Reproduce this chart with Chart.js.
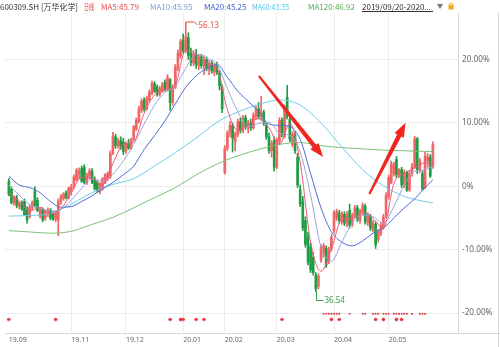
<!DOCTYPE html>
<html><head><meta charset="utf-8">
<script src="https://cdn.jsdelivr.net/npm/chart.js@4.4.0/dist/chart.umd.min.js"></script>
<style>html,body{margin:0;padding:0;background:#fff;overflow:hidden}#c{display:block}</style>
</head><body>
<canvas id="c" width="500" height="347"></canvas>
<script>
// ---- candle data (percent change vs. base) ----
const opens = [0.8,-0.5,-2.6,-1.8,-3.2,-2.6,-2.4,-3.6,-4.8,-3.3,-0.7,-2.2,-4.7,-3.7,-5.0,-4.4,-3.8,-4.3,-5.2,-5.3,
-2.4,-1.9,-1.0,-1.8,-0.8,0.0,1.0,2.0,2.8,3.0,0.6,1.6,2.4,1.2,0.6,-0.8,-0.4,0.6,1.2,1.5,
5.2,7.8,6.4,7.2,7.0,5.5,6.8,6.0,7.4,9.0,10.2,12.0,13.6,12.2,13.6,14.6,16.2,15.6,14.5,15.0,
16.4,15.3,16.8,13.2,15.6,18.6,20.6,23.0,21.4,23.4,21.0,19.4,20.8,19.0,20.4,19.0,20.0,18.4,19.4,18.0,
19.2,17.8,15.6,2.2,6.0,8.4,9.6,7.0,8.2,10.2,8.8,10.8,9.2,10.0,9.2,11.0,12.2,11.0,11.6,9.6,
7.8,5.6,7.2,3.0,7.0,10.4,8.0,14.0,10.6,6.6,8.2,4.6,-0.6,-2.4,-5.4,-8.0,-9.6,-11.2,-14.0,-15.8,
-11.6,-10.6,-9.8,-11.8,-9.8,-7.0,-5.0,-4.2,-5.6,-4.4,-5.8,-3.8,-6.0,-4.6,-3.4,-5.4,-4.2,-3.2,-5.8,-4.8,
-6.8,-6.0,-8.4,-7.4,-6.4,-4.6,-1.6,0.6,2.0,4.2,1.8,2.6,0.2,2.2,-0.6,2.0,3.0,7.5,2.6,2.0,
-0.2,4.0,4.6,3.2];
const highs = [1.2,0.0,-1.5,-1.4,-2.4,-2.3,-2.0,-3.2,-2.9,-2.3,0.0,-1.8,-3.3,-3.4,-3.8,-3.4,-3.5,-4.0,-3.9,-2.0,
-1.3,-1.0,-0.7,-0.1,0.3,1.8,2.8,2.9,3.2,3.4,2.1,2.8,2.8,1.5,0.9,0.6,1.4,2.0,2.3,5.6,
8.5,8.2,7.6,7.8,7.6,7.0,7.4,7.6,9.6,10.8,12.6,13.8,14.0,14.2,15.2,16.6,16.5,16.0,15.8,16.4,
16.8,17.6,17.0,16.0,19.2,21.5,23.2,24.0,25.9,24.2,21.8,21.4,21.6,20.8,20.8,20.6,20.4,19.8,19.8,19.4,
19.6,18.2,16.0,6.4,8.8,10.2,10.0,8.6,10.6,10.8,11.2,11.2,10.4,10.6,11.6,12.6,13.2,14.2,12.0,10.0,
8.4,7.2,7.8,7.6,10.8,10.8,12.8,15.9,11.0,8.6,8.6,5.2,0.2,-1.6,-4.8,-7.2,-9.0,-10.4,-13.6,-13.8,
-9.2,-9.0,-9.4,-9.6,-7.6,-3.8,-3.6,-3.8,-4.0,-4.0,-4.0,-2.8,-4.2,-3.0,-3.0,-3.6,-2.6,-2.8,-4.2,-4.4,
-5.4,-5.6,-6.8,-5.8,-4.4,-1.0,1.8,4.0,3.8,4.7,2.8,3.0,2.6,2.4,2.4,3.6,7.9,7.7,4.4,2.4,
5.4,5.2,5.0,7.0];
const lows = [-1.5,-2.8,-3.0,-3.4,-3.6,-3.8,-4.6,-5.8,-5.0,-3.7,-3.3,-4.0,-5.0,-5.6,-5.4,-4.8,-5.3,-5.4,-5.6,-7.8,
-2.9,-2.2,-2.0,-2.0,-1.4,-0.3,0.8,1.2,0.6,0.4,0.3,1.2,0.4,-0.6,-1.0,-1.2,-0.6,0.4,0.9,1.2,
5.0,6.0,6.0,5.8,5.0,5.2,5.8,5.8,7.2,8.8,10.0,11.6,11.8,12.0,13.2,14.4,14.8,14.2,14.2,14.8,
15.0,15.0,12.0,12.8,15.4,18.2,20.2,21.0,21.0,20.0,19.0,19.0,18.6,18.4,18.6,17.6,18.2,17.6,17.8,17.4,
17.6,15.2,11.6,1.9,5.6,7.8,5.4,5.6,7.8,8.4,8.4,9.0,8.4,8.8,9.0,10.6,10.6,10.4,9.6,7.4,
5.2,4.6,2.4,2.8,6.6,7.8,7.6,10.6,7.0,6.2,5.2,-0.2,-3.2,-7.0,-9.6,-12.4,-13.6,-14.0,-16.6,-16.2,
-12.0,-11.2,-12.8,-12.2,-10.2,-7.4,-5.4,-5.8,-6.0,-6.2,-6.4,-6.6,-6.4,-5.0,-5.6,-5.8,-4.6,-6.0,-6.2,-7.0,
-7.2,-9.8,-8.8,-7.8,-6.8,-5.0,-2.0,0.4,1.6,1.4,1.4,-0.2,-0.2,-0.8,-0.8,1.6,2.8,2.0,2.2,-0.6,
-0.4,3.0,1.4,2.8];
const closes = [-1.3,-2.6,-1.8,-3.0,-2.6,-3.6,-4.5,-5.3,-3.3,-2.5,-3.1,-3.8,-3.6,-5.3,-4.0,-3.7,-5.0,-5.2,-4.0,-2.3,
-1.6,-1.2,-1.8,-0.3,0.0,1.5,2.6,2.3,0.8,0.6,1.8,2.4,0.6,-0.4,-0.7,0.4,1.2,1.8,2.0,5.2,
7.8,6.4,7.2,6.2,5.5,6.8,6.0,7.4,9.4,10.5,12.2,13.4,12.2,13.8,14.9,16.2,15.0,14.5,15.4,16.0,
15.3,17.2,13.2,15.6,18.8,21.0,22.8,21.4,23.6,20.6,19.6,20.8,19.2,20.4,19.0,20.0,18.6,19.4,18.2,19.0,
18.0,15.8,12.2,6.0,8.4,9.6,7.6,8.2,10.2,8.8,10.8,9.4,10.0,9.2,11.2,12.2,11.0,11.8,10.0,7.8,
5.6,6.8,3.0,7.2,10.4,8.2,12.4,11.0,7.4,8.2,5.6,0.2,-2.8,-6.6,-9.2,-12.0,-13.2,-13.6,-16.2,-14.2,
-9.6,-9.4,-12.4,-10.0,-8.0,-4.2,-4.0,-5.4,-4.4,-5.8,-4.4,-6.2,-4.6,-3.4,-5.2,-4.0,-3.0,-5.6,-4.6,-6.6,
-5.8,-9.2,-7.2,-6.2,-4.8,-1.4,1.4,3.6,3.4,1.8,2.6,0.2,2.2,-0.6,2.0,3.2,7.5,2.6,4.0,-0.4,
4.8,4.6,1.6,6.6];

// ---- moving averages ----
const maIdx = [0,4,8,12,16,20,24,28,32,36,40,44,48,52,56,60,64,68,72,76,80,84,88,92,96,100,104,108,112,116,120,124,128,132,136,140,144,148,152,156,160,163];
const ma5  = [-1.0,-2.3,-3.9,-3.3,-4.3,-3.6,-1.0,1.4,1.2,0.2,3.6,6.6,7.0,11.5,14.4,15.2,16.0,21.5,20.8,19.4,18.6,12.1,8.8,9.8,10.7,9.2,6.6,9.9,3.7,-8.8,-13.4,-9.9,-5.2,-5.1,-4.0,-5.1,-6.6,0.4,2.0,2.9,3.7,3.4];
const ma10 = [0.2,-1.4,-2.9,-3.4,-3.9,-3.6,-2.2,-0.3,1.2,0.8,1.9,4.0,6.6,9.8,12.8,14.8,15.8,18.6,20.8,20.2,19.2,15.4,11.8,9.4,9.9,10.1,8.4,8.0,5.4,-1.4,-9.6,-11.8,-8.8,-5.8,-4.5,-4.8,-5.8,-3.2,0.2,2.4,2.6,3.2];
const ma20 = [1.6,0.2,-0.2,-1.0,-2.4,-3.3,-3.2,-2.4,-1.5,-0.4,0.6,1.8,3.2,5.8,8.0,10.3,13.0,15.6,17.4,18.6,19.2,17.2,15.0,13.4,11.8,9.8,9.6,9.4,7.4,2.0,-3.4,-7.2,-8.8,-9.4,-8.6,-7.4,-6.6,-5.0,-3.4,-2.0,-0.2,1.0];
const maSlowIdx = [0,8,16,24,32,40,48,56,64,72,80,88,96,104,112,120,128,136,144,152,160,163];
const ma60  = [-4.7,-4.6,-4.3,-2.8,-1.0,0.3,1.2,3.2,5.3,7.6,10.1,11.7,12.9,13.6,12.8,10.0,6.2,2.6,0.1,-1.6,-2.4,-2.6];
const ma120 = [-7.0,-7.2,-7.4,-7.1,-6.0,-4.9,-3.4,-1.8,-0.2,1.8,3.5,4.8,5.8,6.6,6.9,6.4,6.1,5.9,5.7,5.6,5.5,5.5];

// ---- signal markers (candle indices) ----
const starIdx = [0,18,62,66,67,72,75,105,124,127,141,144,149,151];
const squareIdx = [121,122,123,124,125,126,127,131,136,137,140,141,142,144,145,146,148,149,150,151,152,153,155,158,159,160];

// ---- axis ticks ----
const monthTickIdx = [0,24,45,67,83,103,125,146];
const monthLabels = ['19.09','19.11','19.12','20.01','20.02','20.03','20.04','20.05'];
const yTicks = [-20,-10,0,10,20];
const yTickLabels = ['-20.00%','-10.00%','0%','10.00%','20.00%'];

// ---- header texts ----
const headerItems = [
  {t:'600309.SH [万华化学]', c:'#333333'},
  {t:'日线', c:'#e8342f'},
  {t:'MA5:45.79', c:'#ef4b4b'},
  {t:'MA10:45.95', c:'#7f9fcf'},
  {t:'MA20:45.25', c:'#3d5fd6'},
  {t:'MA60:43.35', c:'#55c3e2'},
  {t:'MA120:46.92', c:'#4fae4f'},
  {t:'2019/09/20-2020...', c:'#333333'}
];
const priceNotes = [{i:68, label:'56.13', at:'high', c:'#e2504c'}, {i:118, label:'36.54', at:'low', c:'#3d9a48'}];
const arrowNotes = [{from:[96.1,17.4], to:[120.8,4.6]}, {from:[138.6,-1.2], to:[152.5,10.0]}];

const RED = '#f36464', GREEN = '#1f9d42', MARK = '#e0303a';
const idx = closes.map((_, i) => i);
const upAt = i => closes[i] >= opens[i];
const candleColor = c => upAt(c.dataIndex) ? RED : GREEN;
const pts = (xs, ys) => xs.map((x, k) => ({x: x, y: ys[k]}));

const HEADER_X = [0, 84, 101, 150, 204, 252, 308, 362];
const HEADER_W = [78, 10, 38, 43, 45, 37, 48, 71];

function drawArrow(ctx, x0, y0, x1, y1) {
  const dx = x1 - x0, dy = y1 - y0, len = Math.hypot(dx, dy);
  const ux = dx / len, uy = dy / len, nx = -uy, ny = ux;
  const L = 14, hw = 5.2, tw = 1.1, bw = 2.3;
  const bx = x1 - ux * L, by = y1 - uy * L;
  ctx.beginPath();
  ctx.moveTo(x0 + nx * tw, y0 + ny * tw);
  ctx.lineTo(bx + nx * bw, by + ny * bw);
  ctx.lineTo(bx + nx * hw, by + ny * hw);
  ctx.lineTo(x1, y1);
  ctx.lineTo(bx - nx * hw, by - ny * hw);
  ctx.lineTo(bx - nx * bw, by - ny * bw);
  ctx.lineTo(x0 - nx * tw, y0 - ny * tw);
  ctx.closePath();
  ctx.fillStyle = '#f2261f';
  ctx.fill();
}

const overlay = {
  id: 'overlay',
  afterDatasetsDraw(chart) {
    const {ctx, scales: {x, y}} = chart;
    ctx.save();
    arrowNotes.forEach(a => drawArrow(ctx, x.getPixelForValue(a.from[0]), y.getPixelForValue(a.from[1]),
      x.getPixelForValue(a.to[0]), y.getPixelForValue(a.to[1])));
    ctx.font = '8px "Noto Sans"';
    ctx.textBaseline = 'middle';
    ctx.lineWidth = 1;
    priceNotes.forEach(p => {
      const px = Math.round(x.getPixelForValue(p.i)) + 0.5;
      ctx.strokeStyle = p.c; ctx.fillStyle = p.c;
      if (p.at === 'high') {
        const py = y.getPixelForValue(highs[p.i]);
        ctx.beginPath(); ctx.moveTo(px, py); ctx.lineTo(px + 8, py); ctx.lineTo(px + 11, py + 3); ctx.stroke();
        ctx.fillText(p.label, px + 12, py + 4);
      } else {
        const py = y.getPixelForValue(lows[p.i]);
        ctx.beginPath(); ctx.moveTo(px, py); ctx.lineTo(px, py + 9); ctx.lineTo(px + 7, py + 9); ctx.stroke();
        ctx.fillText(p.label, px + 8, py + 9);
      }
    });
    ctx.restore();
  },
  afterDraw(chart) {
    const ctx = chart.ctx;
    const {right, top, bottom} = chart.chartArea;
    ctx.save();
    ctx.strokeStyle = '#d9d9d9'; ctx.lineWidth = 1;
    ctx.beginPath(); ctx.moveTo(right, bottom + 0.5); ctx.lineTo(500, bottom + 0.5); ctx.stroke();
    ctx.beginPath(); ctx.moveTo(498.5, top - 1); ctx.lineTo(498.5, 347); ctx.stroke();
    ctx.font = '8px "Noto Sans CJK SC"';
    ctx.textBaseline = 'middle';
    headerItems.forEach((h, k) => {
      ctx.fillStyle = h.c;
      ctx.fillText(h.t, HEADER_X[k], 6.5, HEADER_W[k]);
    });
    ctx.strokeStyle = '#333'; ctx.beginPath(); ctx.moveTo(362, 11.5); ctx.lineTo(433, 11.5); ctx.stroke();
    ctx.fillStyle = '#777';
    ctx.beginPath(); ctx.moveTo(437, 4); ctx.lineTo(443, 4); ctx.lineTo(440, 9); ctx.closePath(); ctx.fill();
    ctx.strokeStyle = '#f0a81e'; ctx.fillStyle = '#f0a81e';
    ctx.beginPath(); ctx.arc(451, 5, 1.8, Math.PI, 0); ctx.stroke();
    ctx.fillRect(448.5, 5, 5, 4.5);
    ctx.restore();
  }
};

Chart.defaults.font.family = '"Noto Sans", sans-serif';

new Chart(document.getElementById('c'), {
  type: 'bar',
  data: {
    datasets: [
      {type: 'line', label: 'stars', data: starIdx.map(i => ({x: i, y: -21.0})), showLine: false,
        pointStyle: 'star', pointRadius: 1.8, borderColor: MARK, borderWidth: 1, backgroundColor: MARK, order: 0},
      {type: 'line', label: 'squares', data: squareIdx.map(i => ({x: i, y: -20.1})), showLine: false,
        pointStyle: 'rect', pointRadius: 1.2, borderWidth: 0, backgroundColor: MARK, order: 0},
      {type: 'line', label: 'MA5', data: pts(maIdx, ma5), borderColor: '#f0587a', borderWidth: 1, pointRadius: 0, cubicInterpolationMode: 'monotone', order: 1},
      {type: 'line', label: 'MA10', data: pts(maIdx, ma10), borderColor: '#9aa6dc', borderWidth: 1, pointRadius: 0, cubicInterpolationMode: 'monotone', order: 1},
      {type: 'line', label: 'MA20', data: pts(maIdx, ma20), borderColor: '#4f6bdb', borderWidth: 1, pointRadius: 0, cubicInterpolationMode: 'monotone', order: 1},
      {type: 'line', label: 'MA60', data: pts(maSlowIdx, ma60), borderColor: '#6cccea', borderWidth: 1, pointRadius: 0, cubicInterpolationMode: 'monotone', order: 1},
      {type: 'line', label: 'MA120', data: pts(maSlowIdx, ma120), borderColor: '#7cc076', borderWidth: 1, pointRadius: 0, cubicInterpolationMode: 'monotone', order: 1},
      {label: 'body', data: idx.map(i => ({x: i, y: [opens[i], closes[i]]})), backgroundColor: candleColor,
        barThickness: 2, minBarLength: 1, grouped: false, order: 2},
      {label: 'wick', data: idx.map(i => ({x: i, y: [lows[i], highs[i]]})), backgroundColor: candleColor,
        barThickness: 1, grouped: false, order: 3}
    ]
  },
  options: {
    responsive: false,
    animation: false,
    layout: {padding: {top: 13, left: 0, right: 0, bottom: 0}},
    plugins: {legend: {display: false}, tooltip: {enabled: false}},
    scales: {
      x: {
        type: 'linear', min: -1.483, max: 172.66, offset: false,
        grid: {offset: false, drawTicks: false, color: c => (c.tick && c.tick.value === 0) ? 'rgba(0,0,0,0)' : '#ececec'},
        border: {color: '#d9d9d9'},
        afterBuildTicks: s => { s.ticks = monthTickIdx.map(v => ({value: v})); },
        afterFit: s => { s.height = 14; },
        ticks: {autoSkip: false, maxRotation: 0, align: 'start', padding: 3, color: '#666',
          font: {size: 7}, callback: (v, k) => monthLabels[k]}
      },
      y: {
        type: 'linear', position: 'right', min: -23.13, max: 27.32,
        grid: {drawTicks: false, color: '#ececec'},
        border: {color: '#d9d9d9'},
        afterBuildTicks: s => { s.ticks = yTicks.map(v => ({value: v})); },
        afterFit: s => { s.width = 42; },
        ticks: {crossAlign: 'near', padding: 4, color: '#666', font: {size: 8.2},
          callback: (v, k) => yTickLabels[k]}
      }
    }
  },
  plugins: [overlay]
});
</script>
</body></html>
